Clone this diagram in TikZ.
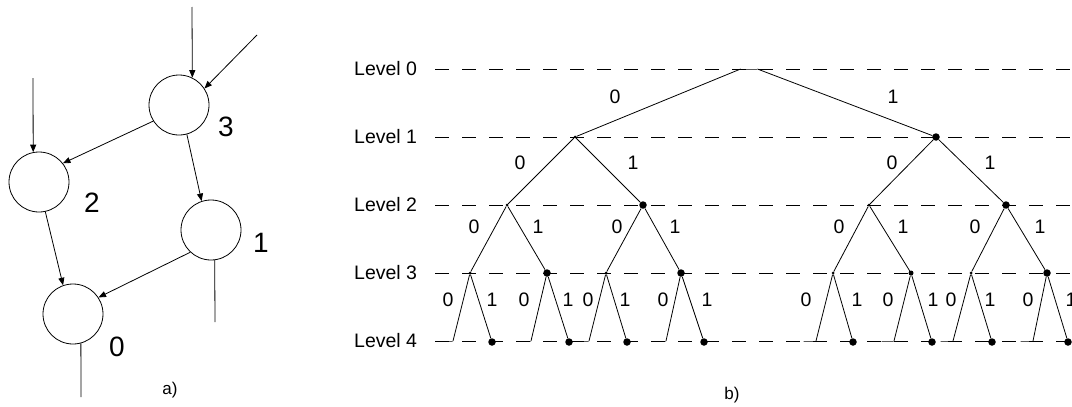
\documentclass[tikz,border=0pt]{standalone}
\usepackage{fontspec}
\setmainfont{Liberation Sans}
\usetikzlibrary{arrows.meta}
\begin{document}
\begin{tikzpicture}[x=1pt,y=-1pt,
  lvl/.style={dash pattern=on 14pt off 13pt, line width=0.8pt},
  edge/.style={line width=0.8pt},
  lvltext/.style={anchor=west, inner sep=0pt, font=\fontsize{19.5}{22}\selectfont},
  bit/.style={inner sep=0pt, font=\fontsize{19.5}{22}\selectfont},
  dotnode/.style={circle, fill, inner sep=0pt, minimum size=7.5pt},
  smalldot/.style={circle, fill, inner sep=0pt, minimum size=5pt},
  tick/.style={circle, fill, inner sep=0pt, minimum size=3pt},
  lleaf/.style={draw, line width=0.8pt, rectangle, inner sep=0pt, minimum width=12pt, minimum height=0pt, anchor=east},
  rootbar/.style={draw, line width=0.8pt, rectangle, inner sep=0pt, minimum width=16pt, minimum height=0pt},
  state/.style={draw, circle, line width=0.8pt, minimum size=60pt, inner sep=0pt},
  numlabel/.style={inner sep=0pt, font=\fontsize{28}{31}\selectfont},
  caption/.style={inner sep=0pt, font=\fontsize{17}{19}\selectfont},
  arr/.style={line width=0.8pt, -{Triangle[length=7.5pt,width=6pt]}},
  plain/.style={line width=0.8pt}
]
\useasboundingbox (0,0) rectangle (1072,407);
\fill[white] (0,0) rectangle (1072,407);
\clip (0,0) rectangle (1072,407);

% ---------------- part a ----------------
\node[state] (n3) at (179,105) {};
\node[state] (n2) at (39,182) {};
\node[state] (n1) at (211,230) {};
\node[state] (n0) at (73,314) {};
\node[numlabel] (l3) at (226,127) {3};
\node[numlabel] (l2) at (92,203) {2};
\node[numlabel] (l1) at (261,243) {1};
\node[numlabel] (l0) at (117,347) {0};
\node[caption] (capa) at (170,390) {a)};

\coordinate (in3a) at (192,7);
\coordinate (in3b) at (257,35);
\coordinate (in2) at (33,78);
\coordinate (out1) at (215,322);
\coordinate (out0) at (81,397);

\draw[arr] (in3a) -- (n3.64);
\draw[arr] (in3b) -- (n3.33);
\draw[arr] (in2) -- (n2.101.5);
\draw[arr] (n3.212) -- (n2.38);
\draw[arr] (n3.285) -- (n1.108);
\draw[arr] (n2.282) -- (n0.109);
\draw[arr] (n1.227.6) -- (n0.33);
\draw[plain] (n1.277.7) -- (out1);
\draw[plain] (n0.285.5) -- (out0);

% ---------------- part b ----------------
\node[lvltext] (lv0) at (354,69) {Level 0};
\node[lvltext] (lv1) at (354,137) {Level 1};
\node[lvltext] (lv2) at (354,205) {Level 2};
\node[lvltext] (lv3) at (354,273) {Level 3};
\node[lvltext] (lv4) at (354,341) {Level 4};

\foreach \y in {69,137,205,273,341}
  \draw[lvl] (435,\y) -- (1080,\y);

% tree nodes
\node[rootbar] (r) at (749,69) {};
\node[tick] (t0) at (575,137) {};
\node[dotnode] (t1) at (936,137) {};
\node[tick] (t00) at (507,205) {};
\node[dotnode] (t01) at (643,205) {};
\node[tick] (t10) at (869,205) {};
\node[dotnode] (t11) at (1006,205) {};
\node[tick] (t000) at (470,273) {};
\node[dotnode] (t001) at (547,273) {};
\node[tick] (t010) at (606,273) {};
\node[dotnode] (t011) at (681,273) {};
\node[tick] (t100) at (833,273) {};
\node[smalldot] (t101) at (911,273) {};
\node[tick] (t110) at (971,273) {};
\node[dotnode] (t111) at (1047,273) {};
% leaves
\node[lleaf] (t0000) at (453,341) {};
\node[dotnode] (t0001) at (492,342) {};
\node[lleaf] (t0010) at (531,341) {};
\node[dotnode] (t0011) at (569,342) {};
\node[lleaf] (t0100) at (589,341) {};
\node[dotnode] (t0101) at (627,342) {};
\node[lleaf] (t0110) at (666,341) {};
\node[dotnode] (t0111) at (704,342) {};
\node[lleaf] (t1000) at (816,341) {};
\node[dotnode] (t1001) at (853,342) {};
\node[lleaf] (t1010) at (894,341) {};
\node[dotnode] (t1011) at (932,342) {};
\node[lleaf] (t1100) at (953,341) {};
\node[dotnode] (t1101) at (992,342) {};
\node[lleaf] (t1110) at (1033,341) {};
\node[dotnode] (t1111) at (1068,342) {};

% tree edges
\draw[edge] (r.west) -- (t0);
\draw[edge] (r.east) -- (t1);
\foreach \p in {0,1} {
  \draw[edge] (t\p) -- (t\p0);
  \draw[edge] (t\p) -- (t\p1);
}
\foreach \p in {00,01,10,11} {
  \draw[edge] (t\p) -- (t\p0);
  \draw[edge] (t\p) -- (t\p1);
}
\foreach \p in {000,001,010,011,100,101,110,111} {
  \draw[edge] (t\p) -- (t\p0.east);
  \draw[edge] (t\p) -- (t\p1);
}

% edge labels
\node[bit] (b0) at (615,97) {0};
\node[bit] (b1) at (893,97) {1};
\node[bit] (b00) at (520,163) {0};
\node[bit] (b01) at (633,163) {1};
\node[bit] (b10) at (892,163) {0};
\node[bit] (b11) at (990,163) {1};
\node[bit] (b000) at (474,227) {0};
\node[bit] (b001) at (538,227) {1};
\node[bit] (b010) at (617,227) {0};
\node[bit] (b011) at (675,227) {1};
\node[bit] (b100) at (839,227) {0};
\node[bit] (b101) at (903,227) {1};
\node[bit] (b110) at (975,227) {0};
\node[bit] (b111) at (1040,227) {1};
\node[bit] (b0000) at (448,300) {0};
\node[bit] (b0001) at (492,300) {1};
\node[bit] (b0010) at (524,300) {0};
\node[bit] (b0011) at (568,300) {1};
\node[bit] (b0100) at (588,300) {0};
\node[bit] (b0101) at (625,300) {1};
\node[bit] (b0110) at (663,300) {0};
\node[bit] (b0111) at (707,300) {1};
\node[bit] (b1000) at (806,300) {0};
\node[bit] (b1001) at (857,300) {1};
\node[bit] (b1010) at (888,300) {0};
\node[bit] (b1011) at (933,300) {1};
\node[bit] (b1100) at (951,300) {0};
\node[bit] (b1101) at (990,300) {1};
\node[bit] (b1110) at (1028,300) {0};
\node[bit] (b1111) at (1071,300) {1};

\node[caption] (capb) at (732,395) {b)};
\end{tikzpicture}
\end{document}
